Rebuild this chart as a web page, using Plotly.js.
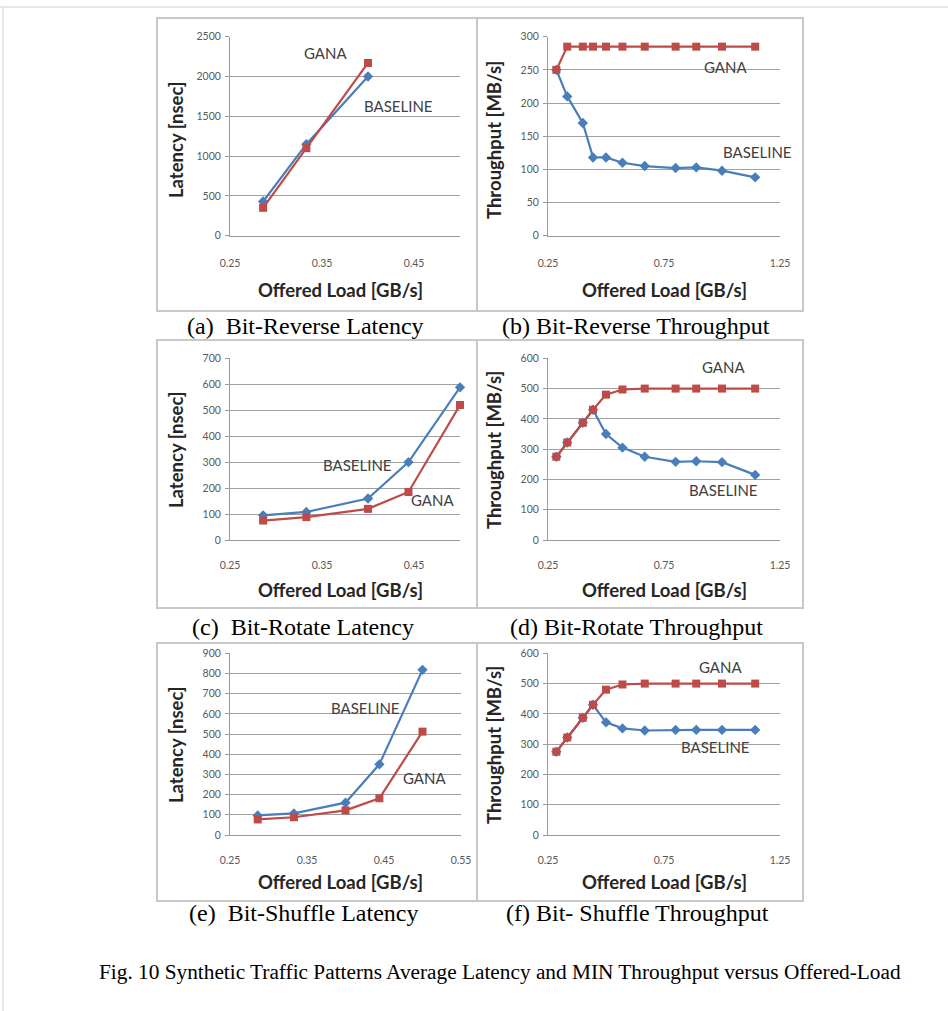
<!DOCTYPE html>
<html>
<head>
<meta charset="utf-8">
<script src="https://cdn.plot.ly/plotly-3.0.1.min.js"></script>
<style>html,body{margin:0;padding:0;background:#fff;}#chart{width:948px;height:1011px;}</style>
</head>
<body>
<div id="chart"></div>
<script>
// ---- data ----
var latLoadA = [0.286, 0.333, 0.4];
var latLoad = [0.286, 0.333, 0.4, 0.444, 0.5];
var thrLoad = [0.286, 0.333, 0.4, 0.444, 0.5, 0.571, 0.667, 0.8, 0.889, 1.0, 1.143];

var revLatBaseline = [430, 1150, 2000];
var revLatGana = [350, 1100, 2170];
var revThrBaseline = [250, 210, 170, 118, 118, 110, 105, 102, 103, 98, 88];
var revThrGana = [250, 285, 285, 285, 285, 285, 285, 285, 285, 285, 285];

var rotLatBaseline = [95, 108, 160, 300, 588];
var rotLatGana = [75, 88, 120, 185, 520];
var rotThrBaseline = [275, 322, 387, 430, 350, 305, 275, 258, 260, 257, 215];
var rotThrGana = [275, 322, 387, 430, 480, 497, 500, 500, 500, 500, 500];

var shfLatBaseline = [97, 107, 160, 350, 818];
var shfLatGana = [77, 88, 122, 182, 512];
var shfThrBaseline = [275, 322, 387, 430, 372, 352, 345, 347, 347, 347, 347];
var shfThrGana = [275, 322, 387, 430, 480, 497, 500, 500, 500, 500, 500];

var latTicks = [0.25, 0.35, 0.45];
var latTicksE = [0.25, 0.35, 0.45, 0.55];
var latTickText = ['0.25', '0.35', '0.45'];
var latTickTextE = ['0.25', '0.35', '0.45', '0.55'];
var thrTicks = [0.25, 0.75, 1.25];
var thrTickText = ['0.25', '0.75', '1.25'];

var seriesNames = ['BASELINE', 'GANA'];
var panelCaptions = ['(a)  Bit-Reverse Latency', '(b) Bit-Reverse Throughput',
  '(c)  Bit-Rotate Latency', '(d) Bit-Rotate Throughput',
  '(e)  Bit-Shuffle Latency', '(f) Bit- Shuffle Throughput'];
var figCaption = 'Fig. 10 Synthetic Traffic Patterns Average Latency and MIN Throughput versus Offered-Load';
var xTitle = 'Offered Load [GB/s]';
var latTitle = 'Latency [nsec]';
var thrTitle = 'Throughput [MB/s]';

// ---- layout helpers ----
var W = 948, H = 1011;
function px(x){ return x / W; }
function py(y){ return 1 - y / H; }

var BLUE = '#4a7ebb', RED = '#be4b48';
var FONT = 'Lato, "Open Sans", sans-serif';
var SERIF = '"Liberation Serif", "DejaVu Serif", serif';

var traces = [];
function addPair(ax, x, b, g){
  var xa = 'x' + (ax === 1 ? '' : ax), ya = 'y' + (ax === 1 ? '' : ax);
  traces.push({x: x, y: b, xaxis: xa, yaxis: ya, mode: 'lines+markers', name: seriesNames[0],
    line: {color: BLUE, width: 2.2}, marker: {symbol: 'diamond', size: 8, color: BLUE}, cliponaxis: false});
  traces.push({x: x, y: g, xaxis: xa, yaxis: ya, mode: 'lines+markers', name: seriesNames[1],
    line: {color: RED, width: 2.2}, marker: {symbol: 'square', size: 8, color: RED}, cliponaxis: false});
}
addPair(1, latLoadA, revLatBaseline, revLatGana);
addPair(2, thrLoad, revThrBaseline, revThrGana);
addPair(3, latLoad, rotLatBaseline, rotLatGana);
addPair(4, thrLoad, rotThrBaseline, rotThrGana);
addPair(5, latLoad, shfLatBaseline, shfLatGana);
addPair(6, thrLoad, shfThrBaseline, shfThrGana);

// plot area geometry (pixels)
var rows = [
  {top: 36.7, bot: 235.7, tickStand: 18},
  {top: 358.3, bot: 540, tickStand: 15},
  {top: 653.3, bot: 835, tickStand: 15}
];
var latX = [230, 460], latXE = [230, 461], thrX = [548, 780];

function xaxisDef(dom, range, tv, tt, stand){
  return {domain: [px(dom[0]), px(dom[1])], range: range, tickvals: tv, ticktext: tt,
    showgrid: false, zeroline: false, showline: true, linecolor: '#9a9a9a', linewidth: 1,
    ticks: '', ticklabelstandoff: stand, tickfont: {family: FONT, size: 10.5, color: '#595959'}, fixedrange: true};
}
function yaxisDef(row, range, dt, anchor){
  return {domain: [py(row.bot), py(row.top)], range: range, dtick: dt, tick0: 0,
    showgrid: true, gridcolor: '#a0a0a0', gridwidth: 1, zeroline: false,
    showline: true, linecolor: '#9a9a9a', linewidth: 1, ticks: 'outside', ticklen: 4, tickcolor: '#9a9a9a',
    ticklabelstandoff: 2, tickfont: {family: FONT, size: 10.5, color: '#595959'}, anchor: anchor, fixedrange: true};
}

var layout = {
  width: W, height: H, margin: {l: 0, r: 0, t: 0, b: 0},
  paper_bgcolor: '#ffffff', plot_bgcolor: '#ffffff', showlegend: false,
  xaxis: xaxisDef(latX, [0.25, 0.5], latTicks, latTickText, rows[0].tickStand),
  yaxis: yaxisDef(rows[0], [0, 2500], 500, 'x'),
  xaxis2: xaxisDef(thrX, [0.25, 1.25], thrTicks, thrTickText, rows[0].tickStand),
  yaxis2: yaxisDef(rows[0], [0, 300], 50, 'x2'),
  xaxis3: xaxisDef(latX, [0.25, 0.5], latTicks, latTickText, rows[1].tickStand),
  yaxis3: yaxisDef(rows[1], [0, 700], 100, 'x3'),
  xaxis4: xaxisDef(thrX, [0.25, 1.25], thrTicks, thrTickText, rows[1].tickStand),
  yaxis4: yaxisDef(rows[1], [0, 600], 100, 'x4'),
  xaxis5: xaxisDef(latXE, [0.25, 0.55], latTicksE, latTickTextE, rows[2].tickStand),
  yaxis5: yaxisDef(rows[2], [0, 900], 100, 'x5'),
  xaxis6: xaxisDef(thrX, [0.25, 1.25], thrTicks, thrTickText, rows[2].tickStand),
  yaxis6: yaxisDef(rows[2], [0, 600], 100, 'x6'),
  shapes: [], annotations: []
};
layout.xaxis.anchor = 'y'; layout.xaxis2.anchor = 'y2'; layout.xaxis3.anchor = 'y3';
layout.xaxis4.anchor = 'y4'; layout.xaxis5.anchor = 'y5'; layout.xaxis6.anchor = 'y6';

// outer frame lines
layout.shapes.push({type: 'line', xref: 'paper', yref: 'paper', x0: 0, x1: 1, y0: py(7), y1: py(7), line: {color: '#e0e0e0', width: 1.5}});
layout.shapes.push({type: 'line', xref: 'paper', yref: 'paper', x0: px(3), x1: px(3), y0: py(7), y1: 0, line: {color: '#e0e0e0', width: 1.5}});

// panel boxes
var boxes = [
  [157, 18, 477, 311], [477, 18, 803, 311],
  [157, 340, 477, 608], [477, 340, 803, 608],
  [157, 643, 477, 901], [477, 643, 803, 901]
];
boxes.forEach(function(b){
  layout.shapes.push({type: 'rect', xref: 'paper', yref: 'paper', x0: px(b[0]), x1: px(b[2]), y0: py(b[3]), y1: py(b[1]),
    line: {color: '#c8c8c8', width: 2}, fillcolor: 'rgba(0,0,0,0)'});
});

function ann(text, x, y, size, bold, family, color, angle){
  layout.annotations.push({text: bold ? '<b>' + text + '</b>' : text, xref: 'paper', yref: 'paper',
    x: px(x), y: py(y), xanchor: 'center', yanchor: 'middle', showarrow: false, textangle: angle || 0,
    font: {family: family, size: size, color: color}});
}
// axis titles
var rowTitleY = [290, 590, 882];
var rowMid = [140, 450, 745];
for (var r = 0; r < 3; r++){
  ann(xTitle, 340, rowTitleY[r], 18.5, true, FONT, '#262626');
  ann(xTitle, 664, rowTitleY[r], 18.5, true, FONT, '#262626');
  ann(latTitle, 176, rowMid[r], 18.5, true, FONT, '#262626', -90);
  ann(thrTitle, 494, rowMid[r], 18.5, true, FONT, '#262626', -90);
}
// series labels
var lbl = [
  ['GANA', 325, 53], ['BASELINE', 398, 106], ['GANA', 725, 67], ['BASELINE', 757, 152],
  ['BASELINE', 357, 465], ['GANA', 432, 500], ['GANA', 723, 367], ['BASELINE', 723, 490],
  ['BASELINE', 365, 708], ['GANA', 424, 778], ['GANA', 720, 667], ['BASELINE', 715, 747]
];
lbl.forEach(function(l){ ann(l[0], l[1], l[2], 15, false, FONT, '#404040'); });

// captions
var capPos = [[305, 326], [636, 326], [303, 627], [636, 627], [303, 913], [637, 913]];
panelCaptions.forEach(function(c, i){ ann(c, capPos[i][0], capPos[i][1], 24, false, SERIF, '#000000'); });
ann(figCaption, 500, 972, 21.3, false, SERIF, '#000000');

Plotly.newPlot('chart', traces, layout, {displayModeBar: false, staticPlot: true});
</script>
</body>
</html>
